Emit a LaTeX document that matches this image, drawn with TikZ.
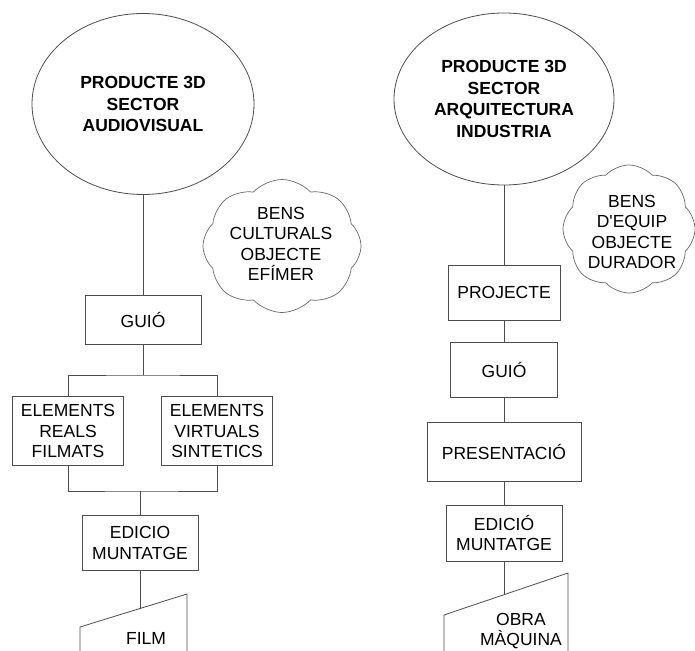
\documentclass[tikz,border=0pt]{standalone}
\usepackage{fontspec}
\setmainfont{Liberation Sans}
\usetikzlibrary{shapes.geometric,shapes.symbols,calc}
\begin{document}
\begin{tikzpicture}[x=1pt,y=-1pt,
  ln/.style={draw=black!70,line width=0.8pt},
  boxnode/.style={ln,rectangle,inner sep=0pt,align=center,font=\fontsize{17.5}{20.5}\selectfont},
  ell/.style={ln,ellipse,inner sep=0pt,align=center,font=\bfseries\fontsize{17.5}{21.5}\selectfont},
  cloudnode/.style={draw=black!60,line width=0.7pt,cloud,cloud puffs=8,cloud puff arc=95,inner sep=0pt},
  txt/.style={align=center,font=\fontsize{17.5}{20.5}\selectfont,inner sep=0pt}]
\useasboundingbox (0,0) rectangle (695,650);

% left column
\node[ell,minimum width=222pt,minimum height=181pt] (e1) at (143,104) {PRODUCTE 3D\\SECTOR\\AUDIOVISUAL};
\node[cloudnode,minimum width=158pt,minimum height=133pt] (c1) at (282,246) {};
\node[txt] (c1t) at (281,244) {BENS\\CULTURALS\\OBJECTE\\EFÍMER};
\node[boxnode,minimum width=116pt,minimum height=49pt] (g1) at (143,320) {GUIÓ};
\node[boxnode,minimum width=111pt,minimum height=69pt] (r1) at (68,431) {ELEMENTS\\REALS\\FILMATS};
\node[boxnode,minimum width=111pt,minimum height=69pt] (v1) at (217,431) {ELEMENTS\\VIRTUALS\\SINTETICS};
\node[boxnode,minimum width=116pt,minimum height=55pt] (m1) at (140,543) {EDICIO\\MUNTATGE};
\coordinate (b1) at (143,375);
\coordinate (j1) at (140,491);
\draw[ln] (e1.south) -- (g1.north);
\draw[ln] (g1.south) -- (b1);
\draw[ln] (r1.north) |- (b1) -| (v1.north);
\draw[ln] (r1.south) |- (j1) -| (v1.south);
\draw[ln] (j1) -- (m1.north);
\coordinate (fbl) at (80,653);
\coordinate (ftl) at (80,627);
\coordinate (ftr) at (187,594);
\coordinate (fbr) at (187,653);
\draw[ln] (fbl) -- (ftl) -- (ftr) -- (fbr);
\coordinate (fin) at (140,608.5);
\draw[ln] (m1.south) -- (fin);
\node[txt] (f1) at (146,638) {FILM};

% right column
\node[ell,minimum width=220pt,minimum height=172pt] (e2) at (504,99) {PRODUCTE 3D\\SECTOR\\ARQUITECTURA\\INDUSTRIA};
\node[cloudnode,minimum width=132pt,minimum height=128pt] (c2) at (629,229) {};
\node[txt] (c2t) at (632,232) {BENS\\D\textquotesingle EQUIP\\OBJECTE\\DURADOR};
\node[boxnode,minimum width=112pt,minimum height=55pt] (p2) at (504,292.5) {PROJECTE};
\node[boxnode,minimum width=107pt,minimum height=55pt] (g2) at (504,369.5) {GUIÓ};
\node[boxnode,minimum width=154pt,minimum height=59pt] (s2) at (504,451.5) {PRESENTACIÓ};
\node[boxnode,minimum width=116pt,minimum height=56pt] (m2) at (504,533) {EDICIÓ\\MUNTATGE};
\draw[ln] (e2.south) -- (p2.north);
\draw[ln] (p2.south) -- (g2.north);
\draw[ln] (g2.south) -- (s2.north);
\draw[ln] (s2.south) -- (m2.north);
\coordinate (obl) at (444,653);
\coordinate (otl) at (444,615);
\coordinate (otr) at (568,573);
\coordinate (obr) at (568,653);
\draw[ln] (obl) -- (otl) -- (otr) -- (obr);
\coordinate (oin) at (504,594.7);
\draw[ln] (m2.south) -- (oin);
\node[txt] (o2) at (521,631) {OBRA\\MÀQUINA};
\end{tikzpicture}
\end{document}
